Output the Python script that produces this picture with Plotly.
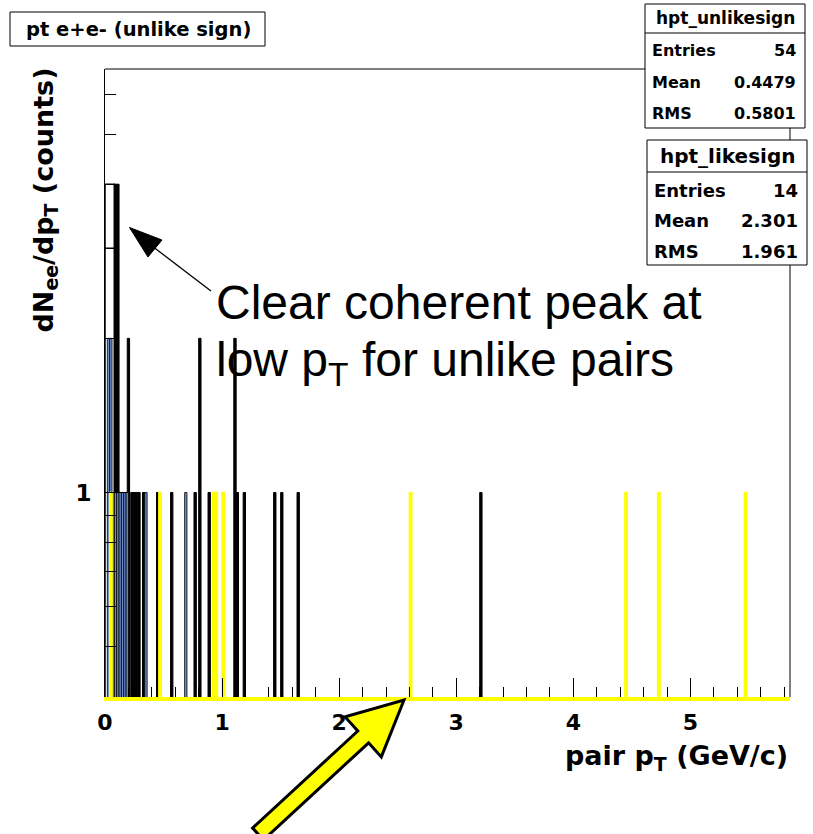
import plotly.graph_objects as go

# ---- data -------------------------------------------------------------
BIN = 0.02  # histogram bin width (GeV/c)

# unlike-sign pairs (black)
unlike_pt = [0.09, 0.11, 0.13, 0.15, 0.17, 0.20, 0.23, 0.25, 0.27, 0.29,
             0.33, 0.45, 0.57, 0.77, 0.81, 0.89, 1.11, 1.13, 1.19, 1.45,
             1.51, 1.65, 3.21]
unlike_n = [4, 4, 1, 1, 1, 2, 1, 1, 1, 1,
            1, 1, 1, 1, 2, 1, 2, 1, 1, 1,
            1, 1, 1]

# lowest-pT bins, outline only
first_pt = [0.04, 0.04]
first_n = [4, 3]
FIRST_BIN = 0.08

# coherent candidates (filled blue)
coh_pt = [0.03, 0.05, 0.09, 0.11, 0.13, 0.15, 0.17, 0.19, 0.35, 0.69]
coh_n = [2, 2, 1, 1, 1, 1, 1, 1, 1, 1]

# like-sign pairs (yellow)
like_pt = [0.05, 0.47, 0.93, 0.95, 1.01, 2.61, 4.45, 4.73, 5.47]
like_n = [1, 1, 1, 1, 1, 1, 1, 1, 1]

stats_unlike = [("Entries", "54"), ("Mean", "0.4479"), ("RMS", "0.5801")]
stats_like = [("Entries", "14"), ("Mean", "2.301"), ("RMS", "1.961")]

# ---- geometry helpers -------------------------------------------------
W, H = 813, 834
ML, MR, MT, MB = 105, 23, 69, 137
PW, PH = W - ML - MR, H - MT - MB


def px(x):
    return (x - ML) / PW


def py(y):
    return (H - MB - y) / PH


FONT = "Liberation Sans"
BOLD = "DejaVu Sans"

fig = go.Figure()

fig.add_trace(go.Bar(x=first_pt, y=first_n, width=FIRST_BIN,
                     marker=dict(color="white", line=dict(color="black", width=1.5)),
                     showlegend=False, hoverinfo="skip"))
fig.add_trace(go.Bar(x=unlike_pt, y=unlike_n, width=BIN, name="hpt_unlikesign",
                     marker=dict(color="black", line=dict(color="black", width=1)),
                     showlegend=False))
fig.add_trace(go.Bar(x=coh_pt, y=coh_n, width=BIN, name="coherent",
                     marker=dict(color="#7090cc", line=dict(color="black", width=0.8)),
                     showlegend=False))
fig.add_trace(go.Bar(x=like_pt, y=like_n, width=BIN, name="hpt_likesign",
                     marker=dict(color="#ffff00", line=dict(color="#ffff00", width=1.5)),
                     showlegend=False))

fig.update_layout(
    width=W, height=H,
    margin=dict(l=ML, r=MR, t=MT, b=MB, pad=0),
    paper_bgcolor="white", plot_bgcolor="white",
    barmode="overlay",
    font=dict(family=FONT, color="black"),
    xaxis=dict(
        range=[0, 5.85], showgrid=False, zeroline=False,
        showline=True, linecolor="#ffff00", linewidth=4,
        tickvals=[0, 1, 2, 3, 4, 5], ticks="inside", ticklen=19,
        tickcolor="black", tickwidth=1,
        minor=dict(dtick=0.2, tick0=0, ticks="inside", ticklen=10,
                   tickcolor="black", tickwidth=1),
        tickfont=dict(family=BOLD, size=22, color="black", weight="bold"),
        ticklabelstandoff=3,
    ),
    yaxis=dict(
        type="log", range=[-0.3994, 0.827], showgrid=False, zeroline=False,
        showline=True, linecolor="black", linewidth=1,
        tickvals=[1], ticktext=["1"], ticks="inside", ticklen=22,
        tickcolor="black",
        minor=dict(tickvals=[0.5, 0.6, 0.7, 0.8, 0.9, 2, 3, 4, 5, 6],
                   ticks="inside", ticklen=11, tickcolor="black"),
        tickfont=dict(family=BOLD, size=23, color="black", weight="bold"),
        ticklabelstandoff=8,
    ),
)

shapes = []
# frame top and right edges
shapes.append(dict(type="line", xref="paper", yref="paper", x0=0, x1=1, y0=1, y1=1,
                   line=dict(color="black", width=1)))
shapes.append(dict(type="line", xref="paper", yref="paper", x0=1, x1=1, y0=0, y1=1,
                   line=dict(color="black", width=1)))

# title box
shapes.append(dict(type="rect", xref="paper", yref="paper",
                   x0=px(10), x1=px(265), y0=py(12), y1=py(46),
                   line=dict(color="black", width=1), fillcolor="white"))


def stats_box(x0, x1, y0, ysep, y1, header, hsize, rows, rows_y, rsize):
    shapes.append(dict(type="rect", xref="paper", yref="paper",
                       x0=px(x0), x1=px(x1), y0=py(y0), y1=py(y1),
                       line=dict(color="black", width=1), fillcolor="white"))
    shapes.append(dict(type="line", xref="paper", yref="paper",
                       x0=px(x0), x1=px(x1), y0=py(ysep), y1=py(ysep),
                       line=dict(color="black", width=1)))
    anns = [dict(text=header, xref="paper", yref="paper",
                 x=px((x0 + x1) / 2), y=py((y0 + ysep) / 2),
                 xanchor="center", yanchor="middle", showarrow=False,
                 font=dict(size=hsize, family=BOLD, weight="bold"))]
    for (lab, val), yy in zip(rows, rows_y):
        anns.append(dict(text=lab, xref="paper", yref="paper", x=px(x0 + 5), y=py(yy),
                         xanchor="left", yanchor="middle", showarrow=False,
                         font=dict(size=rsize, family=BOLD, weight="bold")))
        anns.append(dict(text=val, xref="paper", yref="paper", x=px(x1 - 7), y=py(yy),
                         xanchor="right", yanchor="middle", showarrow=False,
                         font=dict(size=rsize, family=BOLD, weight="bold")))
    return anns


annotations = []
annotations += stats_box(645, 805, 4, 33, 128, "hpt_unlikesign", 17,
                         stats_unlike, [51, 82, 113], 16)
annotations += stats_box(647, 807, 140, 172, 265, "hpt_likesign", 20,
                         stats_like, [191, 221, 251], 18)

annotations.append(dict(text="pt e+e- (unlike sign)", xref="paper", yref="paper",
                        x=px(138), y=py(29), xanchor="center", yanchor="middle",
                        showarrow=False, font=dict(size=19.5, family=BOLD, weight="bold")))

# axis titles
annotations.append(dict(text="pair p<sub>T</sub> (GeV/c)", xref="paper", yref="paper",
                        x=px(790), y=py(757), xanchor="right", yanchor="middle",
                        showarrow=False, font=dict(size=27, family=BOLD, weight="bold")))
annotations.append(dict(text="dN<sub>ee</sub>/dp<sub>T</sub> (counts)", xref="paper",
                        yref="paper", x=px(45), y=py(66), xanchor="center", yanchor="top",
                        textangle=-90, showarrow=False,
                        font=dict(size=27, family=BOLD, weight="bold")))

# call-out text
annotations.append(dict(text="Clear coherent peak at", xref="paper", yref="paper",
                        x=px(214), y=py(302), xanchor="left", yanchor="middle",
                        showarrow=False, font=dict(size=48, family=FONT)))
annotations.append(dict(text="low p<sub>T</sub> for unlike pairs", xref="paper", yref="paper",
                        x=px(214), y=py(363), xanchor="left", yanchor="middle",
                        showarrow=False, font=dict(size=48, family=FONT)))


def path(points):
    d = "M " + " L ".join(f"{px(x):.5f},{py(y):.5f}" for x, y in points) + " Z"
    return d


# thin black pointer to the peak
shapes.append(dict(type="line", xref="paper", yref="paper",
                   x0=px(152), y0=py(246), x1=px(211), y1=py(291),
                   line=dict(color="black", width=1.3)))
shapes.append(dict(type="path", xref="paper", yref="paper",
                   path=path([(129.5, 227.5), (162, 240), (148, 257)]),
                   fillcolor="black", line=dict(color="black", width=1)))

# yellow outlined arrow
shapes.append(dict(type="path", xref="paper", yref="paper",
                   path=path([(404, 700), (381.3, 756.9), (368.6, 742.8),
                              (263.4, 840), (252.6, 828), (357.8, 731.0),
                              (345.1, 716.9)]),
                   fillcolor="#ffff00", line=dict(color="black", width=3)))

fig.update_layout(shapes=shapes, annotations=annotations)

fig.write_html("out.html")
